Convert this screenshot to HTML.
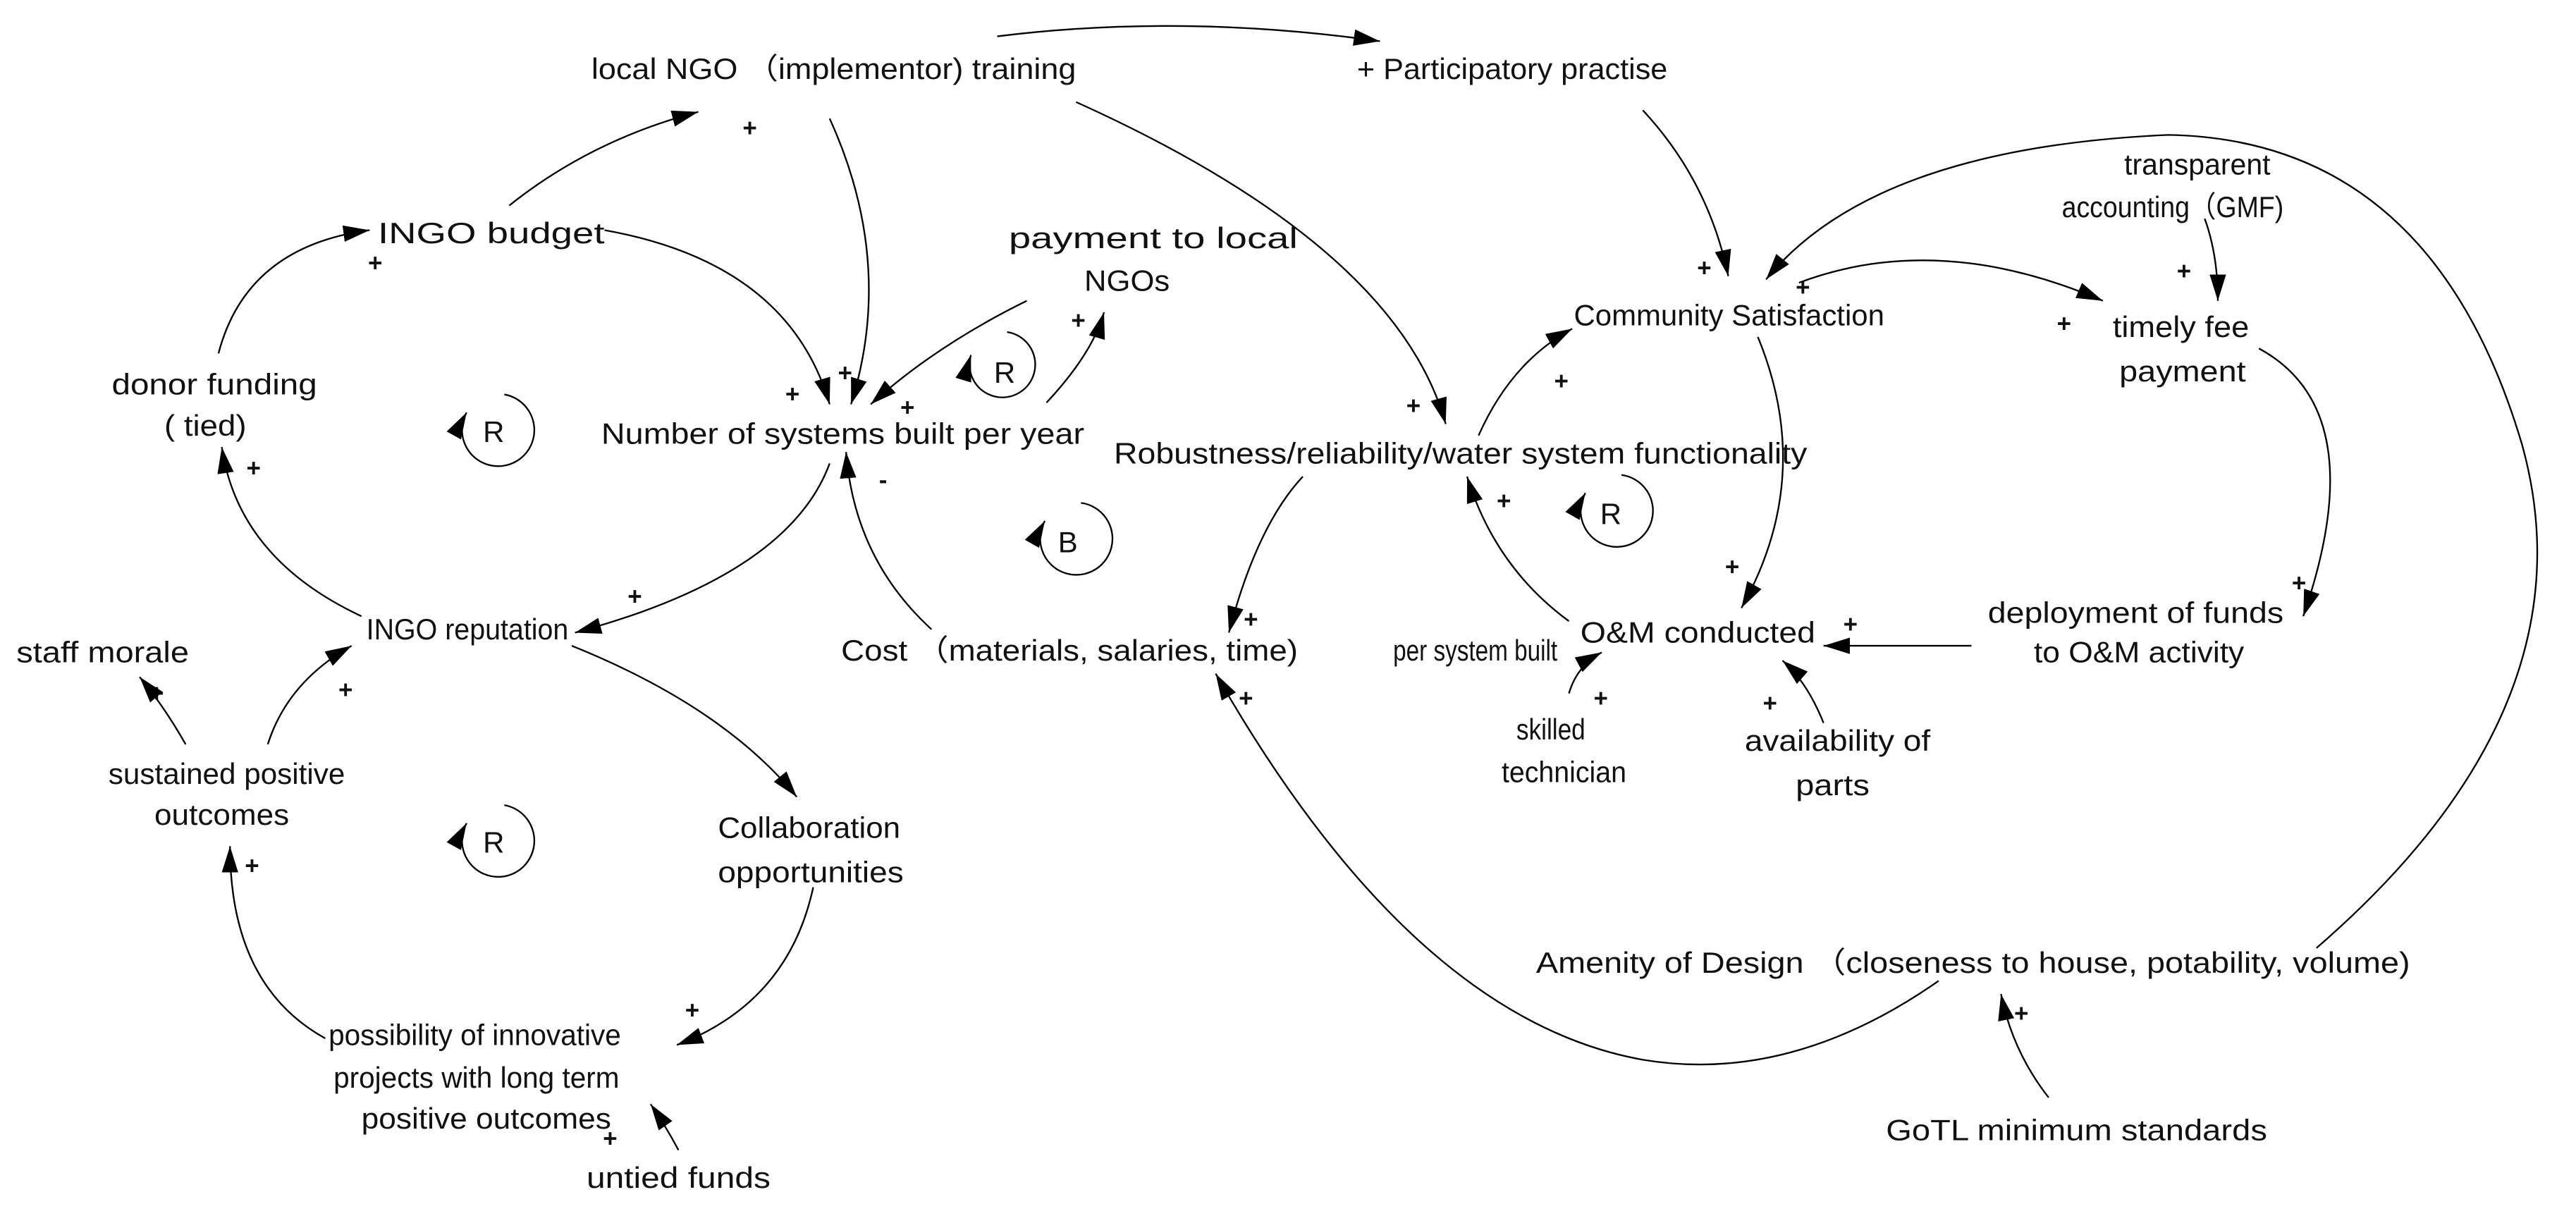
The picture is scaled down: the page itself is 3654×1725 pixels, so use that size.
<!DOCTYPE html>
<html><head><meta charset="utf-8"><style>html,body{margin:0;padding:0;background:#fff}svg{display:block}</style></head><body>
<svg width="3654" height="1725" viewBox="0 0 1568 740" xmlns="http://www.w3.org/2000/svg">
<defs><marker id="a" markerUnits="userSpaceOnUse" markerWidth="18" markerHeight="12" refX="16" refY="5" orient="auto"><path d="M0,0 L16,5 L0,10 z" fill="#000"/></marker></defs>
<g font-family="Liberation Sans, Arial, sans-serif" font-size="18" fill="#111">
<text x="360" y="48" textLength="295" lengthAdjust="spacingAndGlyphs">local NGO （implementor)   training</text>
<text x="826" y="48" textLength="189" lengthAdjust="spacingAndGlyphs">+ Participatory practise</text>
<text x="230" y="148" textLength="138" lengthAdjust="spacingAndGlyphs">INGO budget</text>
<text x="614" y="151" textLength="176" lengthAdjust="spacingAndGlyphs">payment to local</text>
<text x="660" y="177" textLength="52" lengthAdjust="spacingAndGlyphs">NGOs</text>
<text x="1293" y="106" textLength="89" lengthAdjust="spacingAndGlyphs">transparent</text>
<text x="1255" y="132" textLength="135" lengthAdjust="spacingAndGlyphs">accounting（GMF)</text>
<text x="958" y="198" textLength="189" lengthAdjust="spacingAndGlyphs">Community Satisfaction</text>
<text x="1286" y="205" textLength="83" lengthAdjust="spacingAndGlyphs">timely fee</text>
<text x="1290" y="232" textLength="77" lengthAdjust="spacingAndGlyphs">payment</text>
<text x="68" y="240" textLength="125" lengthAdjust="spacingAndGlyphs">donor funding</text>
<text x="100" y="265" textLength="50" lengthAdjust="spacingAndGlyphs">( tied)</text>
<text x="366" y="270" textLength="294" lengthAdjust="spacingAndGlyphs">Number of systems built per year</text>
<text x="678" y="282" textLength="422" lengthAdjust="spacingAndGlyphs">Robustness/reliability/water system functionality</text>
<text x="223" y="389" textLength="123" lengthAdjust="spacingAndGlyphs">INGO reputation</text>
<text x="10" y="403" textLength="105" lengthAdjust="spacingAndGlyphs">staff morale</text>
<text x="512" y="402" textLength="278" lengthAdjust="spacingAndGlyphs">Cost （materials, salaries, time)</text>
<text x="848" y="402" textLength="100" lengthAdjust="spacingAndGlyphs">per system built</text>
<text x="962" y="391" textLength="143" lengthAdjust="spacingAndGlyphs">O&amp;M conducted</text>
<text x="1210" y="379" textLength="180" lengthAdjust="spacingAndGlyphs">deployment of funds</text>
<text x="1238" y="403" textLength="128" lengthAdjust="spacingAndGlyphs">to O&amp;M activity</text>
<text x="923" y="450" textLength="42" lengthAdjust="spacingAndGlyphs">skilled</text>
<text x="914" y="476" textLength="76" lengthAdjust="spacingAndGlyphs">technician</text>
<text x="1062" y="457" textLength="113" lengthAdjust="spacingAndGlyphs">availability of</text>
<text x="1093" y="484" textLength="45" lengthAdjust="spacingAndGlyphs">parts</text>
<text x="66" y="477" textLength="144" lengthAdjust="spacingAndGlyphs">sustained positive</text>
<text x="94" y="502" textLength="82" lengthAdjust="spacingAndGlyphs">outcomes</text>
<text x="437" y="510" textLength="111" lengthAdjust="spacingAndGlyphs">Collaboration</text>
<text x="437" y="537" textLength="113" lengthAdjust="spacingAndGlyphs">opportunities</text>
<text x="935" y="592" textLength="532" lengthAdjust="spacingAndGlyphs">Amenity of Design （closeness to house, potability, volume)</text>
<text x="200" y="636" textLength="178" lengthAdjust="spacingAndGlyphs">possibility of innovative</text>
<text x="203" y="662" textLength="174" lengthAdjust="spacingAndGlyphs">projects with long term</text>
<text x="220" y="687" textLength="152" lengthAdjust="spacingAndGlyphs">positive outcomes</text>
<text x="357" y="723" textLength="112" lengthAdjust="spacingAndGlyphs">untied funds</text>
<text x="1148" y="694" textLength="232" lengthAdjust="spacingAndGlyphs">GoTL minimum standards</text>
<text x="294" y="269">R</text><text x="605" y="233">R</text><text x="644" y="336">B</text><text x="974" y="319">R</text><text x="294" y="519">R</text>
<g font-size="15" font-weight="bold">
<text x="452" y="83">+</text><text x="224" y="165">+</text><text x="510" y="232">+</text><text x="478" y="245">+</text><text x="548" y="253">+</text>
<text x="652" y="200">+</text><text x="856" y="252">+</text><text x="1033" y="168">+</text><text x="1093" y="180">+</text><text x="1252" y="202">+</text>
<text x="1325" y="170">+</text><text x="946" y="237">+</text><text x="1050" y="350">+</text><text x="1395" y="360">+</text><text x="1122" y="385">+</text>
<text x="911" y="310">+</text><text x="757" y="382">+</text><text x="754" y="430">+</text><text x="1226" y="622">+</text><text x="970" y="430">+</text>
<text x="1073" y="433">+</text><text x="535" y="297">-</text><text x="382" y="368">+</text><text x="150" y="290">+</text><text x="206" y="425">+</text>
<text x="91" y="427">+</text><text x="149" y="532">+</text><text x="417" y="620">+</text><text x="367" y="698">+</text>
</g>
</g>
<g fill="none" stroke="#000" stroke-width="1" marker-end="url(#a)">
<path d="M607,22 Q720,8 840,25"/>
<path d="M310,125 Q360,85 425,68"/>
<path d="M505,72 Q545,160 518,246"/>
<path d="M368,140 Q480,160 505,246"/>
<path d="M625,183 Q570,210 530,246"/>
<path d="M637,245 Q665,215 672,190"/>
<path d="M655,62 Q850,150 880,258"/>
<path d="M1000,67 Q1040,110 1052,168"/>
<path d="M1410,577 Q1580,430 1535,270 Q1480,85 1320,82 Q1140,90 1075,170"/>
<path d="M1095,172 Q1180,140 1280,183"/>
<path d="M1342,133 Q1350,155 1350,183"/>
<path d="M1375,212 Q1445,250 1402,375"/>
<path d="M1200,393 L1110,393"/>
<path d="M1070,205 Q1105,290 1060,370"/>
<path d="M900,265 Q920,220 957,200"/>
<path d="M955,378 Q910,345 893,290"/>
<path d="M793,290 Q765,320 748,385"/>
<path d="M1180,597 Q1090,660 1000,645 Q860,620 740,410"/>
<path d="M1247,668 Q1225,640 1218,605"/>
<path d="M955,422 Q960,405 975,397"/>
<path d="M1110,440 Q1100,415 1085,402"/>
<path d="M567,383 Q520,340 515,275"/>
<path d="M505,282 Q480,350 350,385"/>
<path d="M220,375 Q145,340 135,272"/>
<path d="M133,215 Q150,150 225,140"/>
<path d="M348,393 Q440,430 485,485"/>
<path d="M495,540 Q480,610 412,636"/>
<path d="M198,632 Q140,600 140,515"/>
<path d="M163,453 Q175,415 214,393"/>
<path d="M113,453 Q100,430 85,412"/>
<path d="M413,700 Q405,685 396,672"/>
<path d="M307,240 A22,22 0 1 1 284,251"/>
<path d="M613,202 A20,20 0 1 1 591,216"/>
<path d="M658,306 A22,22 0 1 1 636,317"/>
<path d="M987,289 A22,22 0 1 1 965,300"/>
<path d="M307,490 A22,22 0 1 1 284,501"/>
</g>
</svg>
</body></html>
